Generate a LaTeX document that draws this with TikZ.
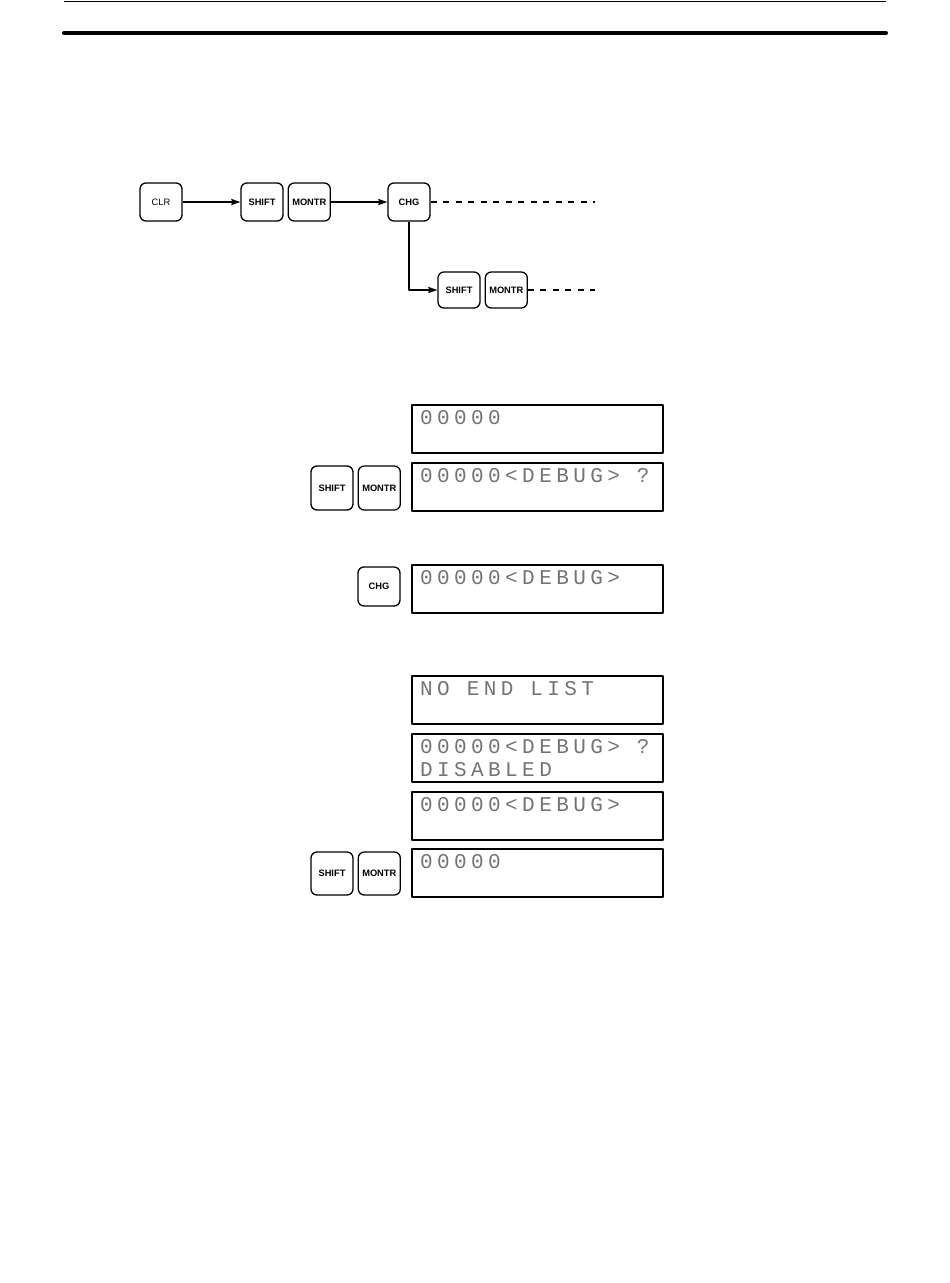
\documentclass[tikz,border=0pt]{standalone}
\usepackage{fontspec}
\setmainfont{Liberation Sans}
\newfontfamily\lcdfont[LetterSpace=21]{Liberation Mono}
\usetikzlibrary{positioning,arrows.meta}

\begin{document}
\begin{tikzpicture}[x=1pt, y=-1pt, line join=round, >={Stealth[length=9pt,width=6pt,inset=1pt]},
	key/.style={draw, line width=1.3pt, rounded corners=6pt, minimum width=42pt, minimum height=38pt, inner sep=0pt, font=\fontsize{9.3}{9}\selectfont\bfseries},
	keyplain/.style={key, font=\fontsize{9.3}{9}\selectfont},
	lcd/.style={draw, line width=1.1pt, minimum width=251pt, minimum height=48pt, inner sep=0pt},
	lcdtext/.style={anchor=base west, inner sep=0pt, text=black!55, font=\fontsize{21}{21}\lcdfont},
	flow/.style={->, line width=1.5pt},
	dots/.style={line width=1.5pt, dash pattern=on 6pt off 6.5pt}]
	\useasboundingbox (0,0) rectangle (950,1283);
	\draw[line width=0.8pt] (64,1) -- (886,1);
	\draw[line width=4pt, line cap=round] (64,33) -- (886,33);
	% key sequence
	\node[keyplain] (clr) at (161,202) {CLR};
	\node[key] (shifta) at (262,202) {SHIFT};
	\node[key, right=4pt of shifta] (montra) {MONTR};
	\node[key] (chg) at (409,202) {CHG};
	\node[key, minimum height=36pt] (shiftb) at (459,290) {SHIFT};
	\node[key, minimum height=36pt, right=4pt of shiftb] (montrb) {MONTR};
	\coordinate (enda) at (595,202);
	\coordinate (endb) at (595,290);
	\draw[flow] (clr) -- (shifta);
	\draw[flow] (montra) -- (chg);
	\draw[flow] (chg) |- (shiftb);
	\draw[dots] (chg) -- (enda);
	\draw[dots] (montrb) -- (endb);
	% displays
	\node[lcd] (lcda) at (537.5,429) {};
	\node[lcd] (lcdb) at (537.5,487) {};
	\node[lcd] (lcdc) at (537.5,589) {};
	\node[lcd] (lcdd) at (537.5,700) {};
	\node[lcd] (lcde) at (537.5,758) {};
	\node[lcd] (lcdf) at (537.5,816) {};
	\node[lcd] (lcdg) at (537.5,873) {};
	\node[lcdtext] (txta) at (420,424) {00000};
	\node[lcdtext] (txtb) at (420,482) {00000<DEBUG> ?};
	\node[lcdtext] (txtc) at (420,584) {00000<DEBUG>};
	\node[lcdtext] (txtd) at (420,695) {NO END LIST};
	\node[lcdtext] (txte) at (420,753) {00000<DEBUG> ?};
	\node[lcdtext] (txtf) at (420,776) {DISABLED};
	\node[lcdtext] (txtg) at (420,811) {00000<DEBUG>};
	\node[lcdtext] (txth) at (420,868) {00000};
	% keys beside displays
	\node[key, minimum height=44pt] (shiftc) at (332,488) {SHIFT};
	\node[key, minimum height=44pt, right=4pt of shiftc] (montrc) {MONTR};
	\node[key, minimum height=39pt] (chgc) at (379,586.5) {CHG};
	\node[key, minimum height=43pt] (shiftd) at (332,873.5) {SHIFT};
	\node[key, minimum height=43pt, right=4pt of shiftd] (montrd) {MONTR};
\end{tikzpicture}
\end{document}
